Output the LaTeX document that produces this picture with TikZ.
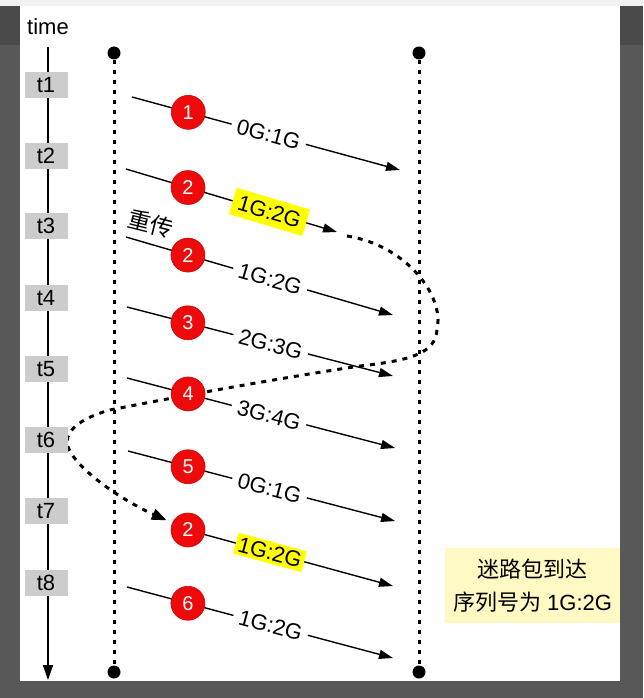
\documentclass[tikz,border=0pt]{standalone}
\usepackage{fontspec}
\setmainfont{Liberation Sans}
\newfontfamily\cjk{Noto Sans CJK SC}
\usetikzlibrary{arrows.meta}
\definecolor{bgdark}{HTML}{585858}
\definecolor{bgdarker}{HTML}{4A4A4A}
\definecolor{topstrip}{HTML}{F2F2F2}
\definecolor{tgray}{HTML}{CCCCCC}
\definecolor{pktred}{HTML}{EE0A0A}
\definecolor{hlyellow}{HTML}{FFFF00}
\definecolor{notebg}{HTML}{FFF9C4}
\pgfdeclarelayer{back}
\pgfdeclarelayer{mid}
\pgfsetlayers{back,mid,main}
\begin{document}
\begin{tikzpicture}[x=1pt,y=-1pt,
  pkt/.style={circle, fill=pktred, draw=pktred!85!black, line width=0.6pt, minimum size=34pt, inner sep=0pt, text=white, font=\fontsize{20}{22}\selectfont},
  lbl/.style={fill=white, inner xsep=6pt, inner ysep=2pt, font=\fontsize{22}{24}\selectfont},
  hilite/.style={fill=hlyellow, inner xsep=6pt, inner ysep=6pt, font=\fontsize{22}{24}\selectfont},
  tighthl/.style={fill=hlyellow, inner xsep=3pt, inner ysep=3pt, font=\fontsize{22}{24}\selectfont},
  tbox/.style={fill=tgray, minimum width=43pt, minimum height=26pt, inner sep=0pt, font=\fontsize{22}{24}\selectfont},
  msg/.style={line width=1.4pt, -{Triangle[length=14pt,width=9pt]}},
  lifeline/.style={line width=3pt, dash pattern=on 4.5pt off 5.5pt},
  retx/.style={line width=3pt, dash pattern=on 5pt off 6pt, -{Triangle[length=15pt,width=11pt]}},
  dotpt/.style={circle, fill=black, minimum size=13pt, inner sep=0pt},
  axis/.style={line width=1.4pt, -{Triangle[length=15pt,width=10pt]}}
]
\useasboundingbox (0,0) rectangle (643,698);
\begin{pgfonlayer}{back}
  \fill[bgdark] (0,0) rectangle (643,698);
  \fill[bgdarker] (0,6) rectangle (20,45);
  \fill[bgdarker] (620,6) rectangle (643,45);
  \fill[topstrip] (0,0) rectangle (643,6);
  \fill[white] (20,6) rectangle (620,681);
\end{pgfonlayer}

% time axis
\node[font=\fontsize{22}{24}\selectfont] (time) at (48,27) {time};
\coordinate (ax0) at (48,47);
\coordinate (ax1) at (48,680);
\draw[axis] (ax0) -- (ax1);
\foreach \i/\yy in {1/85,2/156,3/226,4/298,5/369,6/440,7/511,8/583}
  \node[tbox] (t\i) at (46,\yy) {t\i};

% lifelines
\node[dotpt] (la) at (114,53) {};
\node[dotpt] (lb) at (114,672) {};
\node[dotpt] (ra) at (419,53) {};
\node[dotpt] (rb) at (419,672) {};
\draw[lifeline] (la) -- (lb);
\draw[lifeline] (ra) -- (rb);

% row 1
\coordinate (s1) at (132,97); \coordinate (e1) at (400,170);
\draw[msg] (s1) -- node[pos=0.21, pkt] (c1) {1} node[pos=0.51, sloped, lbl] (l1) {0G:1G} (e1);
% row 2
\coordinate (s2) at (126,169); \coordinate (e2) at (337,232);
\draw[msg] (s2) -- node[pos=0.294, pkt] (c2) {2} node[pos=0.68, sloped, hilite] (l2) {1G:2G} (e2);
% row 3
\node[font=\cjk\fontsize{23}{25}\selectfont, rotate=-14] (rt) at (151,224) {重传};
\coordinate (s3) at (126,237); \coordinate (e3) at (393,315);
\draw[msg] (s3) -- node[pos=0.232, pkt] (c3) {2} node[pos=0.54, sloped, lbl] (l3) {1G:2G} (e3);
% row 4
\coordinate (s4) at (127,307); \coordinate (e4) at (393,376);
\draw[msg] (s4) -- node[pos=0.229, pkt] (c4) {3} node[pos=0.54, sloped, lbl] (l4) {2G:3G} (e4);
% row 5
\coordinate (s5) at (127,378); \coordinate (e5) at (395,448);
\draw[msg] (s5) -- node[pos=0.228, pkt] (c5) {4} node[pos=0.53, sloped, lbl] (l5) {3G:4G} (e5);
% row 6
\coordinate (s6) at (128,451); \coordinate (e6) at (395,521);
\draw[msg] (s6) -- node[pos=0.225, pkt] (c6) {5} node[pos=0.53, sloped, lbl] (l6) {0G:1G} (e6);
% row 7
\coordinate (s7) at (188,530); \coordinate (e7) at (393,586);
\draw[msg] (s7) -- node[pos=0.40, sloped, tighthl] (l7) {1G:2G} (e7);
\node[pkt] (c7) at (s7) {2};
% row 8
\coordinate (s8) at (127,587); \coordinate (e8) at (393,658);
\draw[msg] (s8) -- node[pos=0.229, pkt] (c8) {6} node[pos=0.54, sloped, lbl] (l8) {1G:2G} (e8);

% stray retransmission curve
\coordinate (cs) at (347,236);
\begin{pgfonlayer}{mid}
\draw[retx, shorten >=6pt] (cs) .. controls (405,245) and (445,295) .. (437,330)
  .. controls (435,352) and (415,360) .. (360,366)
  .. controls (280,378) and (170,398) .. (110,410)
  .. controls (85,417) and (67,428) .. (67,442)
  .. controls (68,462) and (115,497) .. (c7);
\end{pgfonlayer}

% note
\node[fill=notebg, minimum width=175pt, minimum height=75pt, inner sep=0pt, align=center,
  font=\fontsize{22}{33}\selectfont] (note) at (532.5,585.5)
  {{\cjk 迷路包到达}\\{\cjk 序列号为} 1G:2G};
\end{tikzpicture}
\end{document}
